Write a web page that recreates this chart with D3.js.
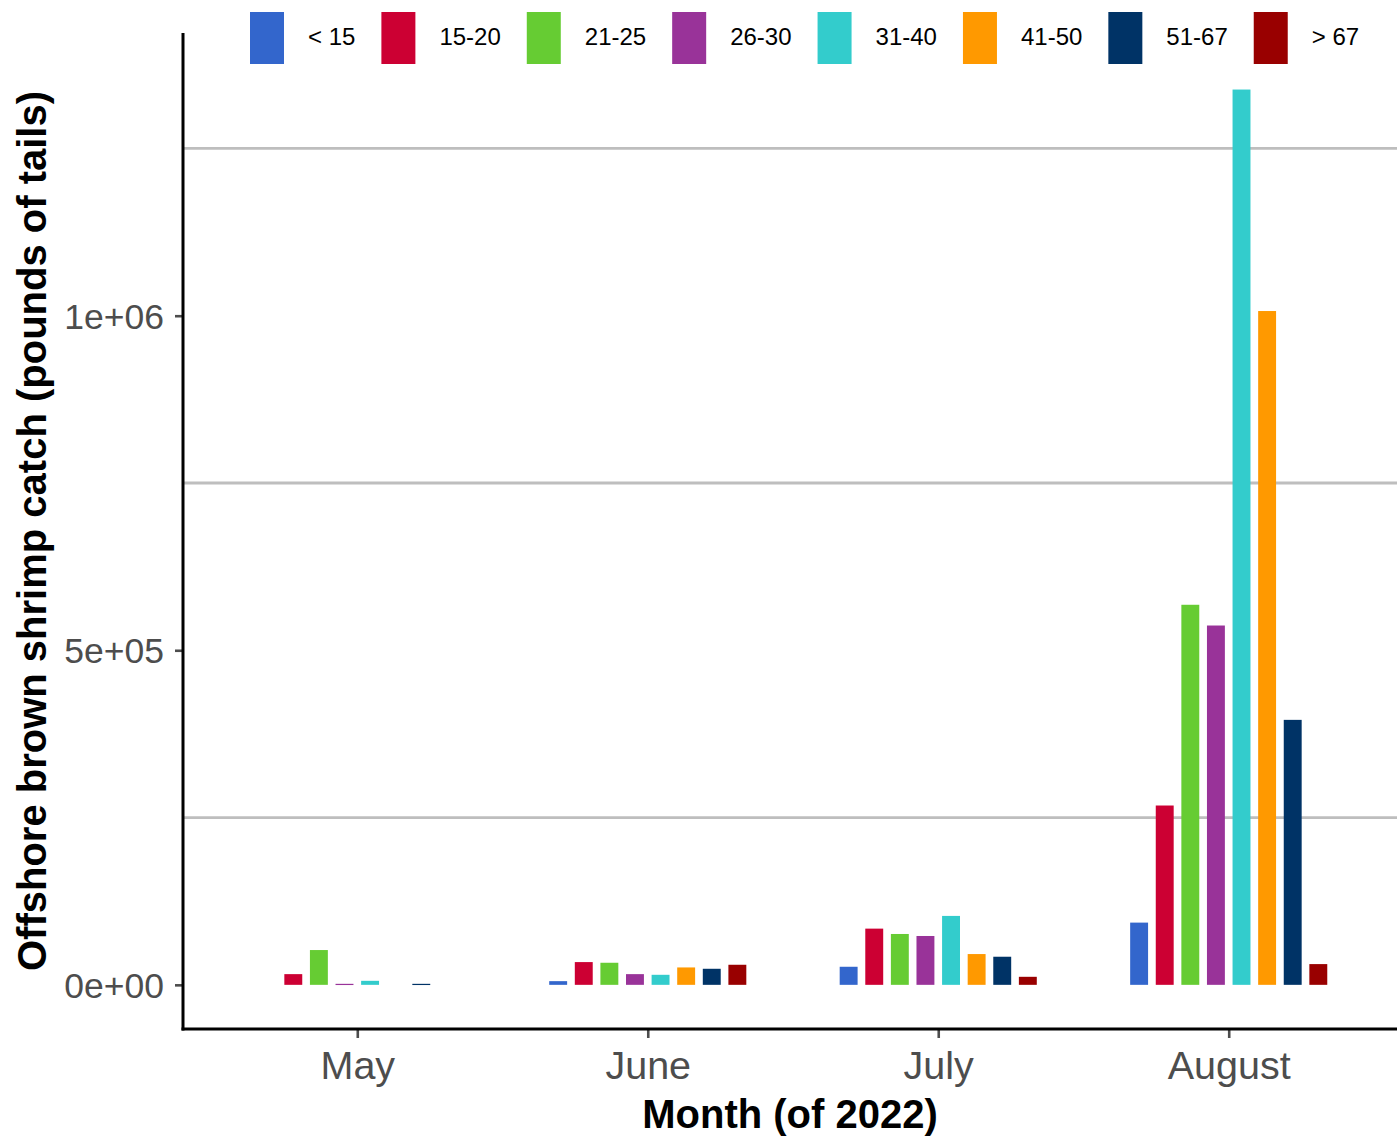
<!DOCTYPE html>
<html>
<head>
<meta charset="utf-8">
<script src="https://cdn.jsdelivr.net/npm/d3@7"></script>
<style>
  html, body { margin: 0; padding: 0; background: #fff; }
  svg { display: block; }
  text { font-family: "Liberation Sans", Arial, sans-serif; }
</style>
</head>
<body>
<svg id="chart" width="1397" height="1137"></svg>
<script>
// ---- data ----
const months = ["May", "June", "July", "August"];
const sizeClasses = ["< 15", "15-20", "21-25", "26-30", "31-40", "41-50", "51-67", "> 67"];
const colors = ["#3366CC", "#CC0033", "#66CC33", "#993399", "#33CCCC", "#FF9900", "#003366", "#990000"];
const catchMay    = [0,     16000,  52000,  1500,   6000,    0,       1500,   0];
const catchJune   = [5500,  34000,  33000,  16000,  15000,   26000,   24000,  30000];
const catchJuly   = [27000, 84000,  76000,  73000,  103000,  46000,   42000,  12000];
const catchAugust = [93000, 268000, 568000, 537000, 1338000, 1007000, 396000, 31000];
const yTickValues = [0, 500000, 1000000];
const yTickLabels = ["0e+00", "5e+05", "1e+06"];
const yGridValues = [250000, 750000, 1250000];

const seriesByMonth = [catchMay, catchJune, catchJuly, catchAugust];
const rows = [];
months.forEach((m, i) => {
  sizeClasses.forEach((s, j) => rows.push({ month: m, size: s, value: seriesByMonth[i][j] }));
});

// ---- layout ----
const svg = d3.select("#chart");
const panel = { left: 183, right: 1403, top: 33, bottom: 1029 };

const x = d3.scalePoint().domain(months).range([panel.left, panel.right]).padding(0.6);
const groupW = x.step() * 0.705;
const x1 = d3.scaleBand().domain(sizeClasses).range([-groupW / 2, groupW / 2])
  .paddingInner(0.3).paddingOuter(0.15);
const y = d3.scaleLinear().domain([-66000, 1422500]).range([panel.bottom, panel.top]);
const color = d3.scaleOrdinal().domain(sizeClasses).range(colors);

// gridlines (minor positions)
svg.append("g").selectAll("line").data(yGridValues).join("line")
  .attr("x1", panel.left).attr("x2", 1397)
  .attr("y1", d => y(d)).attr("y2", d => y(d))
  .attr("stroke", "#BEBEBE").attr("stroke-width", 2.8);

// bars
svg.append("g").selectAll("rect").data(rows.filter(d => d.value > 0)).join("rect")
  .attr("x", d => x(d.month) + x1(d.size))
  .attr("width", x1.bandwidth())
  .attr("y", d => y(d.value))
  .attr("height", d => Math.max(1.2, y(0) - y(d.value)))
  .attr("fill", d => color(d.size));

// y axis
const yAxis = d3.axisLeft(y).tickValues(yTickValues)
  .tickFormat((d, i) => yTickLabels[i]).tickSize(8).tickPadding(11);
const gy = svg.append("g").attr("transform", `translate(${panel.left},0)`).call(yAxis);
gy.select(".domain").remove();
gy.selectAll(".tick line").attr("stroke", "#4D4D4D").attr("stroke-width", 2.6);
gy.selectAll(".tick text").attr("fill", "#4D4D4D").attr("font-size", 35.5)
  .attr("font-family", "Liberation Sans, Arial, sans-serif").attr("dy", "0.35em");
svg.append("line").attr("x1", panel.left).attr("x2", panel.left)
  .attr("y1", panel.top).attr("y2", panel.bottom + 1.5)
  .attr("stroke", "#000").attr("stroke-width", 3);

// x axis
const xAxis = d3.axisBottom(x).tickSize(9).tickPadding(13);
const gx = svg.append("g").attr("transform", `translate(0,${panel.bottom})`).call(xAxis);
gx.select(".domain").remove();
gx.selectAll(".tick line").attr("stroke", "#4D4D4D").attr("stroke-width", 2.6);
gx.selectAll(".tick text").attr("fill", "#4D4D4D").attr("font-size", 39.5)
  .attr("font-family", "Liberation Sans, Arial, sans-serif");
svg.append("line").attr("x1", panel.left - 1.5).attr("x2", 1397)
  .attr("y1", panel.bottom).attr("y2", panel.bottom)
  .attr("stroke", "#000").attr("stroke-width", 3);

// axis titles
svg.append("text").attr("x", (panel.left + 1397) / 2).attr("y", 1128)
  .attr("text-anchor", "middle").attr("font-size", 40).attr("font-weight", "bold")
  .attr("fill", "#000").text("Month (of 2022)");
svg.append("text")
  .attr("transform", `translate(46,${(panel.top + panel.bottom) / 2}) rotate(-90)`)
  .attr("text-anchor", "middle").attr("font-size", 40).attr("font-weight", "bold")
  .attr("fill", "#000").text("Offshore brown shrimp catch (pounds of tails)");

// legend
const legend = svg.append("g");
let lx = 250;
sizeClasses.forEach((s, i) => {
  const g = legend.append("g");
  g.append("rect").attr("x", lx).attr("y", 12).attr("width", 34).attr("height", 52)
    .attr("fill", color(s));
  const t = g.append("text").attr("x", lx + 58).attr("y", 37).attr("dy", "0.35em")
    .attr("font-size", 24).attr("fill", "#000").text(s);
  const w = t.node().getComputedTextLength();
  lx = lx + 58 + w + 26;
});
</script>
</body>
</html>
